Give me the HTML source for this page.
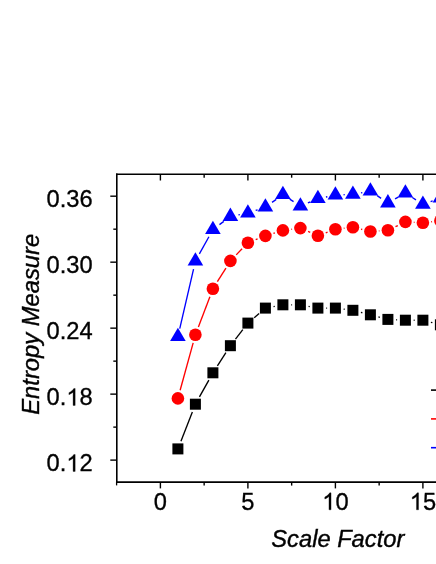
<!DOCTYPE html>
<html><head><meta charset="utf-8"><title>chart</title>
<style>
html,body{margin:0;padding:0;background:#fff;width:436px;height:564px;overflow:hidden;font-family:"Liberation Sans",sans-serif;}
</style></head><body>
<svg width="436" height="564" viewBox="0 0 436 564" style="position:absolute;left:0;top:0">
<rect width="436" height="564" fill="#fff"/>
<g stroke="#000" stroke-width="1.6" fill="none" stroke-linecap="butt">
<line x1="116.8" y1="173.39999999999998" x2="116.8" y2="482.90000000000003"/>
<line x1="116.6" y1="482.1" x2="116.6" y2="485.40000000000003" stroke-width="1.3"/>
<line x1="116.0" y1="174.2" x2="440" y2="174.2"/>
<line x1="116.0" y1="482.1" x2="440" y2="482.1"/>
</g>
<g stroke="#000" stroke-width="1.4" fill="none">
<line x1="160.40" y1="482.1" x2="160.40" y2="488.40000000000003"/>
<line x1="160.40" y1="174.2" x2="160.40" y2="180.5"/>
<line x1="247.90" y1="482.1" x2="247.90" y2="488.40000000000003"/>
<line x1="247.90" y1="174.2" x2="247.90" y2="180.5"/>
<line x1="335.40" y1="482.1" x2="335.40" y2="488.40000000000003"/>
<line x1="335.40" y1="174.2" x2="335.40" y2="180.5"/>
<line x1="422.90" y1="482.1" x2="422.90" y2="488.40000000000003"/>
<line x1="422.90" y1="174.2" x2="422.90" y2="180.5"/>
<line x1="204.15" y1="482.1" x2="204.15" y2="485.6"/>
<line x1="204.15" y1="174.2" x2="204.15" y2="177.7"/>
<line x1="291.65" y1="482.1" x2="291.65" y2="485.6"/>
<line x1="291.65" y1="174.2" x2="291.65" y2="177.7"/>
<line x1="379.15" y1="482.1" x2="379.15" y2="485.6"/>
<line x1="379.15" y1="174.2" x2="379.15" y2="177.7"/>
<line x1="116.8" y1="460.11" x2="110.3" y2="460.11"/>
<line x1="116.8" y1="394.13" x2="110.3" y2="394.13"/>
<line x1="116.8" y1="328.15" x2="110.3" y2="328.15"/>
<line x1="116.8" y1="262.17" x2="110.3" y2="262.17"/>
<line x1="116.8" y1="196.19" x2="110.3" y2="196.19"/>
<line x1="116.8" y1="427.12" x2="113.3" y2="427.12"/>
<line x1="116.8" y1="361.14" x2="113.3" y2="361.14"/>
<line x1="116.8" y1="295.16" x2="113.3" y2="295.16"/>
<line x1="116.8" y1="229.18" x2="113.3" y2="229.18"/>
</g>
<g font-family="Liberation Sans, sans-serif" font-size="23.7" fill="#000" stroke="#000" stroke-width="0.32" opacity="0.999">
<text x="46.57" y="471.41">0.</text>
<path transform="translate(66.34,471.41) scale(0.011572)" d="M763 0H583V-1147Q518 -1085 412.5 -1023T223 -930V-1104Q373 -1174.5 485.5 -1275T647 -1466H763Z" stroke-width="27.7"/>
<text x="79.52" y="471.41">2</text>
<text x="46.57" y="405.43">0.</text>
<path transform="translate(66.34,405.43) scale(0.011572)" d="M763 0H583V-1147Q518 -1085 412.5 -1023T223 -930V-1104Q373 -1174.5 485.5 -1275T647 -1466H763Z" stroke-width="27.7"/>
<text x="79.52" y="405.43">8</text>
<text x="46.57" y="339.45">0.24</text>
<text x="46.57" y="273.47">0.30</text>
<text x="46.57" y="207.49">0.36</text>
<text x="153.81" y="509.80">0</text>
<text x="241.31" y="509.80">5</text>
<path transform="translate(322.22,509.80) scale(0.011572)" d="M763 0H583V-1147Q518 -1085 412.5 -1023T223 -930V-1104Q373 -1174.5 485.5 -1275T647 -1466H763Z" stroke-width="27.7"/>
<text x="335.40" y="509.80">0</text>
<path transform="translate(409.72,509.80) scale(0.011572)" d="M763 0H583V-1147Q518 -1085 412.5 -1023T223 -930V-1104Q373 -1174.5 485.5 -1275T647 -1466H763Z" stroke-width="27.7"/>
<text x="422.90" y="509.80">5</text>
<text x="337.8" y="547.4" text-anchor="middle" font-style="italic" font-size="23.7" stroke-width="0.4">Scale Factor</text>
<text transform="translate(38.6,324.3) rotate(-90)" text-anchor="middle" font-style="italic" font-size="23.75" stroke-width="0.4">Entropy Measure</text>
</g>
<line x1="431" y1="390.1" x2="440" y2="390.1" stroke="#000" stroke-width="1.6"/>
<line x1="431" y1="418.9" x2="440" y2="418.9" stroke="#f00" stroke-width="1.6"/>
<line x1="431" y1="447.7" x2="440" y2="447.7" stroke="#00f" stroke-width="1.6"/>
<line x1="180.93" y1="441.17" x2="192.37" y2="411.93" stroke="#000" stroke-width="1.35"/>
<line x1="199.44" y1="396.95" x2="208.86" y2="380.05" stroke="#000" stroke-width="1.35"/>
<line x1="217.40" y1="365.83" x2="225.90" y2="352.67" stroke="#000" stroke-width="1.35"/>
<line x1="235.48" y1="339.14" x2="242.82" y2="329.66" stroke="#000" stroke-width="1.35"/>
<line x1="254.20" y1="317.70" x2="259.10" y2="313.50" stroke="#000" stroke-width="1.35"/>
<line x1="273.56" y1="306.56" x2="274.74" y2="306.34" stroke="#000" stroke-width="1.35"/>
<line x1="291.20" y1="304.80" x2="292.10" y2="304.80" stroke="#000" stroke-width="1.35"/>
<line x1="308.56" y1="306.34" x2="309.74" y2="306.56" stroke="#000" stroke-width="1.35"/>
<line x1="326.20" y1="308.10" x2="327.10" y2="308.10" stroke="#000" stroke-width="1.35"/>
<line x1="343.64" y1="309.14" x2="344.66" y2="309.26" stroke="#000" stroke-width="1.35"/>
<line x1="360.94" y1="312.37" x2="362.36" y2="312.73" stroke="#000" stroke-width="1.35"/>
<line x1="378.43" y1="316.91" x2="379.87" y2="317.29" stroke="#000" stroke-width="1.35"/>
<line x1="396.19" y1="319.78" x2="397.11" y2="319.82" stroke="#000" stroke-width="1.35"/>
<line x1="413.70" y1="320.20" x2="414.60" y2="320.20" stroke="#000" stroke-width="1.35"/>
<line x1="430.93" y1="322.31" x2="432.37" y2="322.69" stroke="#000" stroke-width="1.35"/>
<line x1="180.13" y1="390.30" x2="193.17" y2="342.90" stroke="#f00" stroke-width="1.35"/>
<line x1="198.39" y1="326.95" x2="209.91" y2="296.65" stroke="#f00" stroke-width="1.35"/>
<line x1="217.36" y1="281.68" x2="225.94" y2="268.02" stroke="#f00" stroke-width="1.35"/>
<line x1="236.24" y1="254.86" x2="242.06" y2="248.84" stroke="#f00" stroke-width="1.35"/>
<line x1="255.71" y1="239.72" x2="257.59" y2="238.98" stroke="#f00" stroke-width="1.35"/>
<line x1="273.41" y1="233.38" x2="274.89" y2="232.92" stroke="#f00" stroke-width="1.35"/>
<line x1="291.23" y1="229.31" x2="292.07" y2="229.19" stroke="#f00" stroke-width="1.35"/>
<line x1="308.09" y1="231.48" x2="310.21" y2="232.42" stroke="#f00" stroke-width="1.35"/>
<line x1="325.76" y1="232.84" x2="327.54" y2="232.16" stroke="#f00" stroke-width="1.35"/>
<line x1="343.75" y1="228.25" x2="344.55" y2="228.15" stroke="#f00" stroke-width="1.35"/>
<line x1="361.06" y1="229.20" x2="362.24" y2="229.50" stroke="#f00" stroke-width="1.35"/>
<line x1="378.78" y1="230.93" x2="379.52" y2="230.87" stroke="#f00" stroke-width="1.35"/>
<line x1="395.47" y1="226.67" x2="397.83" y2="225.53" stroke="#f00" stroke-width="1.35"/>
<line x1="413.79" y1="222.28" x2="414.51" y2="222.32" stroke="#f00" stroke-width="1.35"/>
<line x1="431.25" y1="221.79" x2="432.05" y2="221.71" stroke="#f00" stroke-width="1.35"/>
<line x1="179.75" y1="328.68" x2="193.55" y2="269.06" stroke="#00f" stroke-width="1.35"/>
<line x1="199.38" y1="253.90" x2="208.92" y2="236.73" stroke="#00f" stroke-width="1.35"/>
<line x1="219.46" y1="224.65" x2="223.84" y2="221.38" stroke="#00f" stroke-width="1.35"/>
<line x1="238.45" y1="214.90" x2="239.85" y2="214.63" stroke="#00f" stroke-width="1.35"/>
<line x1="255.67" y1="210.45" x2="257.63" y2="209.79" stroke="#00f" stroke-width="1.35"/>
<line x1="272.05" y1="202.38" x2="276.25" y2="199.36" stroke="#00f" stroke-width="1.35"/>
<line x1="289.73" y1="199.10" x2="293.57" y2="201.64" stroke="#00f" stroke-width="1.35"/>
<line x1="307.92" y1="202.90" x2="310.38" y2="201.83" stroke="#00f" stroke-width="1.35"/>
<line x1="325.95" y1="197.00" x2="327.35" y2="196.73" stroke="#00f" stroke-width="1.35"/>
<line x1="343.59" y1="194.75" x2="344.71" y2="194.69" stroke="#00f" stroke-width="1.35"/>
<line x1="360.97" y1="192.79" x2="362.33" y2="192.54" stroke="#00f" stroke-width="1.35"/>
<line x1="377.18" y1="195.68" x2="381.12" y2="198.36" stroke="#00f" stroke-width="1.35"/>
<line x1="395.04" y1="198.93" x2="398.26" y2="197.10" stroke="#00f" stroke-width="1.35"/>
<line x1="412.31" y1="197.49" x2="415.99" y2="199.85" stroke="#00f" stroke-width="1.35"/>
<line x1="430.63" y1="201.53" x2="432.67" y2="200.81" stroke="#00f" stroke-width="1.35"/>
<rect x="172.40" y="443.40" width="11" height="11" fill="#000"/>
<rect x="189.90" y="398.70" width="11" height="11" fill="#000"/>
<rect x="207.40" y="367.30" width="11" height="11" fill="#000"/>
<rect x="224.90" y="340.20" width="11" height="11" fill="#000"/>
<rect x="242.40" y="317.60" width="11" height="11" fill="#000"/>
<rect x="259.90" y="302.60" width="11" height="11" fill="#000"/>
<rect x="277.40" y="299.30" width="11" height="11" fill="#000"/>
<rect x="294.90" y="299.30" width="11" height="11" fill="#000"/>
<rect x="312.40" y="302.60" width="11" height="11" fill="#000"/>
<rect x="329.90" y="302.60" width="11" height="11" fill="#000"/>
<rect x="347.40" y="304.80" width="11" height="11" fill="#000"/>
<rect x="364.90" y="309.30" width="11" height="11" fill="#000"/>
<rect x="382.40" y="313.90" width="11" height="11" fill="#000"/>
<rect x="399.90" y="314.70" width="11" height="11" fill="#000"/>
<rect x="417.40" y="314.70" width="11" height="11" fill="#000"/>
<rect x="434.90" y="319.30" width="11" height="11" fill="#000"/>
<circle cx="177.90" cy="398.40" r="6.3" fill="#f00"/>
<circle cx="195.40" cy="334.80" r="6.3" fill="#f00"/>
<circle cx="212.90" cy="288.80" r="6.3" fill="#f00"/>
<circle cx="230.40" cy="260.90" r="6.3" fill="#f00"/>
<circle cx="247.90" cy="242.80" r="6.3" fill="#f00"/>
<circle cx="265.40" cy="235.90" r="6.3" fill="#f00"/>
<circle cx="282.90" cy="230.40" r="6.3" fill="#f00"/>
<circle cx="300.40" cy="228.10" r="6.3" fill="#f00"/>
<circle cx="317.90" cy="235.80" r="6.3" fill="#f00"/>
<circle cx="335.40" cy="229.20" r="6.3" fill="#f00"/>
<circle cx="352.90" cy="227.20" r="6.3" fill="#f00"/>
<circle cx="370.40" cy="231.50" r="6.3" fill="#f00"/>
<circle cx="387.90" cy="230.30" r="6.3" fill="#f00"/>
<circle cx="405.40" cy="221.90" r="6.3" fill="#f00"/>
<circle cx="422.90" cy="222.70" r="6.3" fill="#f00"/>
<circle cx="440.40" cy="220.80" r="6.3" fill="#f00"/>
<polygon points="177.90,327.80 185.70,341.10 170.10,341.10" fill="#00f"/>
<polygon points="195.40,252.20 203.20,265.50 187.60,265.50" fill="#00f"/>
<polygon points="212.90,220.70 220.70,234.00 205.10,234.00" fill="#00f"/>
<polygon points="230.40,207.60 238.20,220.90 222.60,220.90" fill="#00f"/>
<polygon points="247.90,204.20 255.70,217.50 240.10,217.50" fill="#00f"/>
<polygon points="265.40,198.30 273.20,211.60 257.60,211.60" fill="#00f"/>
<polygon points="282.90,185.70 290.70,199.00 275.10,199.00" fill="#00f"/>
<polygon points="300.40,197.30 308.20,210.60 292.60,210.60" fill="#00f"/>
<polygon points="317.90,189.70 325.70,203.00 310.10,203.00" fill="#00f"/>
<polygon points="335.40,186.30 343.20,199.60 327.60,199.60" fill="#00f"/>
<polygon points="352.90,185.40 360.70,198.70 345.10,198.70" fill="#00f"/>
<polygon points="370.40,182.20 378.20,195.50 362.60,195.50" fill="#00f"/>
<polygon points="387.90,194.10 395.70,207.40 380.10,207.40" fill="#00f"/>
<polygon points="405.40,184.20 413.20,197.50 397.60,197.50" fill="#00f"/>
<polygon points="422.90,195.40 430.70,208.70 415.10,208.70" fill="#00f"/>
<polygon points="440.40,189.20 448.20,202.50 432.60,202.50" fill="#00f"/>
</svg>
</body></html>
